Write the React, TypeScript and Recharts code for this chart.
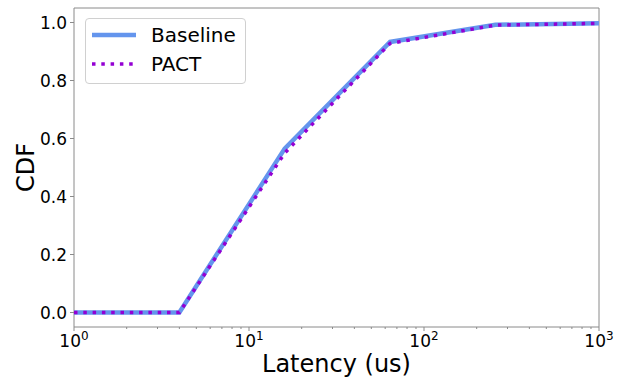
import React from "react";
import {
  LineChart,
  Line,
  XAxis,
  YAxis,
  Legend,
  ReferenceArea,
  Label,
} from "recharts";

// latency buckets (us) and CDF values
const latency = [1, 4, 16, 64, 256, 1000];
const baseline = [0, 0, 0.565, 0.933, 0.992, 0.997];
const pact = [0, 0, 0.55, 0.928, 0.991, 0.997];

const yTicks = [0, 0.2, 0.4, 0.6, 0.8, 1.0];
const xTicks = [
  1, 2, 3, 4, 5, 6, 7, 8, 9,
  10, 20, 30, 40, 50, 60, 70, 80, 90,
  100, 200, 300, 400, 500, 600, 700, 800, 900,
  1000,
];

const data = latency.map((x, i) => ({ x, baseline: baseline[i], pact: pact[i] }));

const FONT = "DejaVu Sans";
const SPINE = "#8a8a8a";
const BLUE = "#6495ed";
const PURPLE = "#9400d3";

function XTick(props: any) {
  const { x, y, payload } = props;
  const exp = Math.log10(payload.value);
  const major = Math.abs(exp - Math.round(exp)) < 1e-6;
  return (
    <g>
      <line x1={x} x2={x} y1={y} y2={y + (major ? 4 : 2)} stroke={SPINE} strokeWidth={1} />
      {major && (
        <text x={x} y={y + 20} textAnchor="middle" fontSize={17} fontFamily={FONT} fill="#000">
          10
          <tspan dy={-7} fontSize={12}>
            {Math.round(exp)}
          </tspan>
        </text>
      )}
    </g>
  );
}

function LegendBox() {
  const rows = [
    { name: "Baseline", color: BLUE, dash: undefined, w: 4.5 },
    { name: "PACT", color: PURPLE, dash: "3.5 5.8", w: 3.5 },
  ];
  return (
    <div
      style={{
        width: 159,
        height: 64,
        border: "1px solid #d0d0d0",
        borderRadius: 4,
        background: "rgba(255,255,255,0.8)",
        fontFamily: FONT,
        fontSize: 20,
        boxSizing: "content-box",
      }}
    >
      {rows.map((r, i) => (
        <div key={r.name} style={{ display: "flex", alignItems: "center", height: 29, marginTop: i === 0 ? 1 : 0 }}>
          <svg width={50} height={10} style={{ marginLeft: 5 }}>
            <line x1={1} x2={45} y1={5} y2={5} stroke={r.color} strokeWidth={r.w} strokeDasharray={r.dash} />
          </svg>
          <span style={{ marginLeft: 10, color: "#000" }}>{r.name}</span>
        </div>
      ))}
    </div>
  );
}

export default function App() {
  return (
    <div style={{ position: "absolute", left: 0, top: 0, background: "#fff" }}>
      <LineChart width={627} height={379} data={data} margin={{ top: 8, right: 28, left: 0, bottom: 0 }}>
        <XAxis
          dataKey="x"
          type="number"
          scale="log"
          domain={[1, 1000]}
          allowDataOverflow
          ticks={xTicks}
          interval={0}
          height={52}
          axisLine={false}
          tickLine={false}
          tickSize={0}
          tickMargin={0}
          tick={<XTick />}
        >
          <Label
            content={(p: any) => {
              const vb = p.viewBox;
              return (
                <text x={vb.x + vb.width / 2} y={vb.y + 45} textAnchor="middle" fontSize={24} fontFamily={FONT} fill="#000">
                  Latency (us)
                </text>
              );
            }}
          />
        </XAxis>
        <YAxis
          type="number"
          domain={[-0.05, 1.05]}
          ticks={yTicks}
          interval={0}
          width={74}
          axisLine={false}
          tickLine={{ stroke: SPINE }}
          tickSize={4}
          tickMargin={3}
          tickFormatter={(v: number) => v.toFixed(1)}
          tick={{ fontSize: 17, fontFamily: FONT, fill: "#000" }}
        >
          <Label
            content={(p: any) => {
              const vb = p.viewBox;
              const cx = vb.x + 26;
              const cy = vb.y + vb.height / 2;
              return (
                <text
                  x={cx}
                  y={cy}
                  transform={`rotate(-90 ${cx} ${cy})`}
                  textAnchor="middle"
                  dominantBaseline="central"
                  fontSize={24}
                  fontFamily={FONT}
                  fill="#000"
                >
                  CDF
                </text>
              );
            }}
          />
        </YAxis>
        <ReferenceArea x1={1} x2={1000} y1={-0.05} y2={1.05} fill="none" stroke={SPINE} strokeWidth={1} strokeOpacity={1} />
        <Line
          dataKey="baseline"
          name="Baseline"
          stroke={BLUE}
          strokeWidth={4.5}
          dot={false}
          activeDot={false}
          isAnimationActive={false}
        />
        <Line
          dataKey="pact"
          name="PACT"
          stroke={PURPLE}
          strokeWidth={3.5}
          strokeDasharray="3.5 5.8"
          dot={false}
          activeDot={false}
          isAnimationActive={false}
        />
        <Legend
          layout="vertical"
          align="center"
          verticalAlign="middle"
          content={<LegendBox />}
          wrapperStyle={{ left: 85, top: 18, width: "auto", height: "auto" }}
        />
      </LineChart>
    </div>
  );
}
